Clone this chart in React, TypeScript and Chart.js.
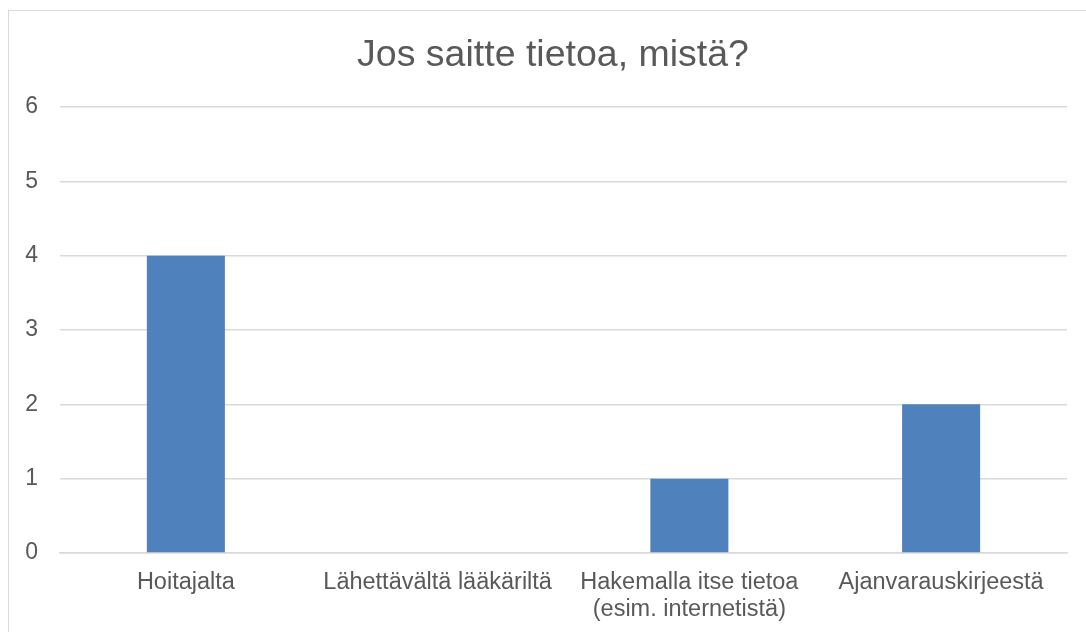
import React, { useEffect, useRef } from "react";
import { Chart, registerables } from "chart.js";

Chart.register(...registerables);

const titleText = "Jos saitte tietoa, mistä?";
const categories: (string | string[])[] = [
  "Hoitajalta",
  "Lähettävältä lääkäriltä",
  ["Hakemalla itse tietoa", "(esim. internetistä)"],
  "Ajanvarauskirjeestä",
];
const values = [4, 0, 1, 2];
const yMin = 0;
const yMax = 6;
const yStep = 1;

export default function App() {
  const ref = useRef<HTMLCanvasElement | null>(null);
  useEffect(() => {
    if (!ref.current) return;
    const font = "'Liberation Sans', Arial, sans-serif";
    const chart = new Chart(ref.current, {
      type: "bar",
      data: {
        labels: categories,
        datasets: [
          {
            data: values,
            backgroundColor: "#4F81BD",
            borderWidth: 0,
            barPercentage: 0.31,
            categoryPercentage: 1,
          },
        ],
      },
      options: {
        animation: false,
        responsive: false,
        maintainAspectRatio: false,
        layout: { padding: 0 },
        plugins: {
          legend: { display: false },
          tooltip: { enabled: false },
          title: {
            display: true,
            text: titleText,
            color: "#595959",
            font: { family: font, size: 37.5, weight: "normal", lineHeight: 1.2 },
            padding: { top: 22, bottom: 29 },
          },
        },
        scales: {
          x: {
            grid: { display: false, drawTicks: false },
            border: { display: true, color: "#D9D9D9", width: 1.5 },
            ticks: {
              color: "#595959",
              font: { family: font, size: 23.5, lineHeight: 1.15 },
              padding: 16,
              maxRotation: 0,
              autoSkip: false,
            },
            afterFit: (s: any) => {
              s.height = 79;
            },
          },
          y: {
            min: yMin,
            max: yMax,
            grid: { color: "#D9D9D9", lineWidth: 1.5, drawTicks: false },
            border: { display: false },
            ticks: {
              stepSize: yStep,
              color: "#595959",
              font: { family: font, size: 23 },
              padding: 22,
            },
            afterFit: (s: any) => {
              s.width = 51;
            },
          },
          yRightSpace: {
            position: "right",
            display: true,
            grid: { display: false, drawTicks: false },
            border: { display: false },
            ticks: { display: false },
            afterFit: (s: any) => {
              s.width = 30;
            },
          },
        },
      },
    });
    return () => chart.destroy();
  }, []);
  return (
    <div
      style={{
        position: "absolute",
        left: 8,
        top: 10,
        width: 1078,
        height: 622,
        borderTop: "1px solid #D9D9D9",
        borderLeft: "1px solid #D9D9D9",
        background: "#fff",
        overflow: "hidden",
      }}
    >
      <canvas ref={ref} width={1088} height={621} style={{ display: "block" }} />
    </div>
  );
}
